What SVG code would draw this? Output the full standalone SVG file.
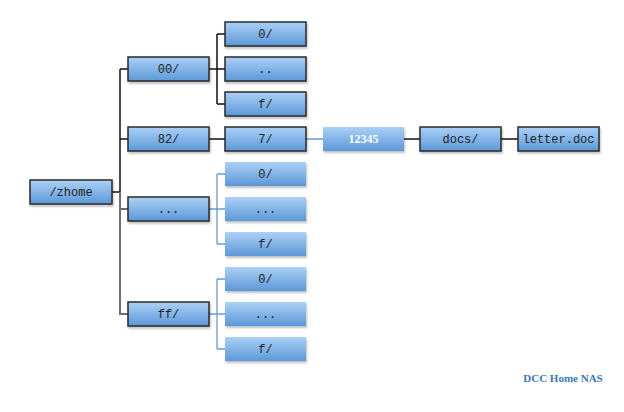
<svg xmlns="http://www.w3.org/2000/svg" width="624" height="412" viewBox="0 0 624 412">
<defs>
<linearGradient id="g" x1="0" y1="0" x2="0" y2="1"><stop offset="0" stop-color="#acd0f6"/><stop offset="1" stop-color="#5b98d8"/></linearGradient>
<filter id="sh" x="-10%" y="-20%" width="130%" height="160%"><feDropShadow dx="1" dy="2" stdDeviation="1" flood-color="#000" flood-opacity="0.25"/></filter>
</defs>
<style>
.b{fill:url(#g);stroke:#2a2a2a;stroke-width:1.5;filter:url(#sh)}
.f{fill:url(#g);filter:url(#sh)}
.t{font-family:"Liberation Mono",monospace;font-size:12px;fill:#222;text-anchor:middle}
.w{font-family:"Liberation Serif",serif;font-size:12px;font-weight:bold;fill:#fff;text-anchor:middle}
.k{stroke:#111;stroke-width:1.5;fill:none}
.s{stroke:#6e6e6e;stroke-width:2;fill:none}
.l{stroke:#6a9ccc;stroke-width:1.3;fill:none}
</style>
<rect width="624" height="412" fill="#fff"/>
<g id="connectors">
<path class="k" d="M112 192H120M120 69V192M120 69H128M120 139H128M209 69H225M217 34V104M217 34H225M217 104H225M209 139H225M404 139H420M501 139H518"/>
<path class="s" d="M120 192V314H128M120 209H128"/>
<path class="l" d="M306 139H323M209 209H225M217 174V244M217 174H225M217 244H225M209 314H225M217 279V349M217 279H225M217 349H225"/>
</g>
<g id="zhome"><rect class="b" x="30" y="180" width="82" height="24"/><text class="t" x="71" y="196">/zhome</text></g>
<g id="n00"><rect class="b" x="128" y="57" width="81" height="24"/><text class="t" x="168.5" y="73">00/</text></g>
<g id="n82"><rect class="b" x="128" y="127" width="81" height="24"/><text class="t" x="168.5" y="143">82/</text></g>
<g id="ndots"><rect class="b" x="128" y="197" width="81" height="24"/><text class="t" x="168.5" y="213">...</text></g>
<g id="nff"><rect class="b" x="128" y="302" width="81" height="24"/><text class="t" x="168.5" y="318">ff/</text></g>
<g id="a0"><rect class="b" x="225" y="22" width="81" height="24"/><text class="t" x="265.5" y="38">0/</text></g>
<g id="a1"><rect class="b" x="225" y="57" width="81" height="24"/><text class="t" x="265.5" y="73">..</text></g>
<g id="af"><rect class="b" x="225" y="92" width="81" height="24"/><text class="t" x="265.5" y="108">f/</text></g>
<g id="n7"><rect class="b" x="225" y="127" width="81" height="24"/><text class="t" x="265.5" y="143">7/</text></g>
<g id="b0"><rect class="f" x="225" y="162" width="81" height="24"/><text class="t" x="265.5" y="178">0/</text></g>
<g id="b1"><rect class="f" x="225" y="197" width="81" height="24"/><text class="t" x="265.5" y="213">...</text></g>
<g id="bf"><rect class="f" x="225" y="232" width="81" height="24"/><text class="t" x="265.5" y="248">f/</text></g>
<g id="c0"><rect class="f" x="225" y="267" width="81" height="24"/><text class="t" x="265.5" y="283">0/</text></g>
<g id="c1"><rect class="f" x="225" y="302" width="81" height="24"/><text class="t" x="265.5" y="318">...</text></g>
<g id="cf"><rect class="f" x="225" y="337" width="81" height="24"/><text class="t" x="265.5" y="353">f/</text></g>
<g id="n12345"><rect class="f" x="323" y="127" width="81" height="24"/><text class="w" x="363.5" y="143">12345</text></g>
<g id="docs"><rect class="b" x="420" y="127" width="81" height="24"/><text class="t" x="460.5" y="143">docs/</text></g>
<g id="letter"><rect class="b" x="518" y="127" width="81" height="24"/><text class="t" x="558.5" y="143">letter.doc</text></g>
<text x="563" y="382" font-family="Liberation Serif,serif" font-size="11" font-weight="bold" fill="#3a78b8" text-anchor="middle">DCC Home NAS</text>
</svg>
